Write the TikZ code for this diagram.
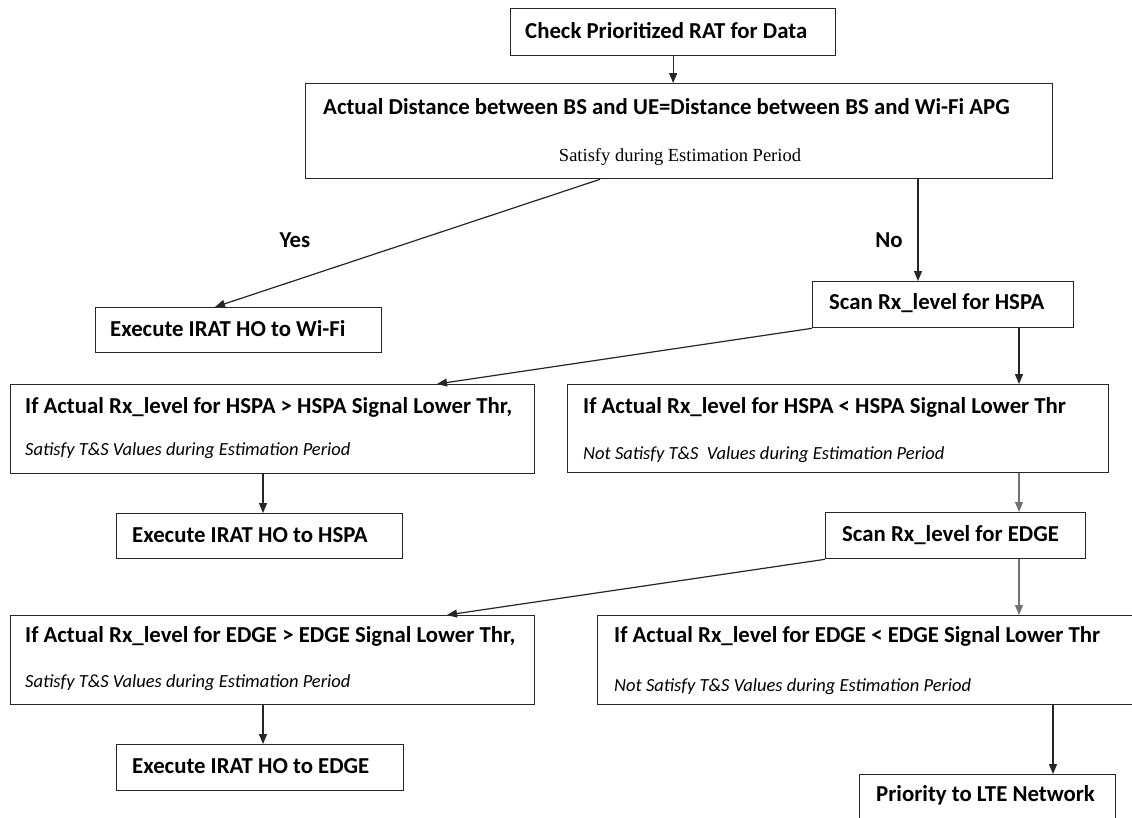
\documentclass[tikz,border=0pt]{standalone}
\usepackage{fontspec}
\setmainfont{Carlito}
\newfontfamily\subserif{Liberation Serif}
\usetikzlibrary{arrows.meta,calc}
\tikzset{
 box/.style={draw=black!85, line width=1.3pt, inner sep=0pt, anchor=north west},
 ttl/.style={anchor=west, inner sep=0pt, font=\fontsize{22.8}{24}\selectfont\bfseries},
 sub/.style={anchor=west, inner sep=0pt, font=\fontsize{18.5}{20}\selectfont\itshape},
 lbl/.style={inner sep=0pt, font=\fontsize{22.8}{24}\selectfont\bfseries},
 arr/.style={line width=1.2pt, draw=black!85, -{Triangle[length=10pt,width=8pt]}},
}
\begin{document}
\begin{tikzpicture}[x=1pt,y=-1pt]
\useasboundingbox[fill=white] (0,0) rectangle (1132,817);
% boxes
\node[box,minimum width=325pt,minimum height=47pt] (b1) at (510,8) {};
\node[box,minimum width=747pt,minimum height=95pt] (b2) at (305,83) {};
\node[box,minimum width=286pt,minimum height=45pt] (b3) at (95,307) {};
\node[box,minimum width=261pt,minimum height=46pt] (b4) at (812,281) {};
\node[box,minimum width=524pt,minimum height=89pt] (b5) at (10,384) {};
\node[box,minimum width=541pt,minimum height=88pt] (b6) at (567,384) {};
\node[box,minimum width=286pt,minimum height=45pt] (b7) at (116,513) {};
\node[box,minimum width=260pt,minimum height=46pt] (b8) at (825,512) {};
\node[box,minimum width=524pt,minimum height=89pt] (b9) at (10,615) {};
\node[box,minimum width=545pt,minimum height=89pt] (b10) at (597,615) {};
\node[box,minimum width=287pt,minimum height=46pt] (b11) at (116,744) {};
\node[box,minimum width=256pt,minimum height=50pt] (b12) at (859,774) {};
% texts
\node[ttl] (t1) at (525,31) {Check Prioritized RAT for Data};
\node[ttl] (t2) at (323,107) {Actual Distance between BS and UE=Distance between BS and Wi-Fi APG};
\node[inner sep=0pt,font=\fontsize{18.5}{20}\selectfont\subserif] (s2) at (680,157) {Satisfy during Estimation Period};
\node[ttl] (t3) at (110,329) {Execute IRAT HO to Wi-Fi};
\node[ttl] (t4) at (829,303) {Scan Rx\_level for HSPA};
\node[ttl] (t5) at (25,407) {If Actual Rx\_level for HSPA > HSPA Signal Lower Thr,};
\node[sub] (s5) at (25,451) {Satisfy T\&S Values during Estimation Period};
\node[ttl] (t6) at (583,407) {If Actual Rx\_level for HSPA < HSPA Signal Lower Thr};
\node[sub] (s6) at (583,455) {Not Satisfy T\&S\ \ Values during Estimation Period};
\node[ttl] (t7) at (132,535) {Execute IRAT HO to HSPA};
\node[ttl] (t8) at (842,535) {Scan Rx\_level for EDGE};
\node[ttl] (t9) at (25,636) {If Actual Rx\_level for EDGE > EDGE Signal Lower Thr,};
\node[sub] (s9) at (25,683) {Satisfy T\&S Values during Estimation Period};
\node[ttl] (t10) at (614,636) {If Actual Rx\_level for EDGE < EDGE Signal Lower Thr};
\node[sub] (s10) at (614,687) {Not Satisfy T\&S Values during Estimation Period};
\node[ttl] (t11) at (132,766) {Execute IRAT HO to EDGE};
\node[ttl] (t12) at (876,795) {Priority to LTE Network};
\node[lbl] (yes) at (295,240) {Yes};
\node[lbl] (no) at (889,240) {No};
% connector endpoints
\coordinate (c1) at (b1.south);
\coordinate (cy) at ($(b2.south west)+(295,0)$);
\coordinate (cy2) at ($(b3.north west)+(120,0)$);
\coordinate (cn) at ($(b2.south west)+(613,0)$);
\coordinate (c45) at ($(b5.north west)+(427,0)$);
\coordinate (c46) at ($(b4.south west)+(207,0)$);
\coordinate (c57) at ($(b5.south west)+(253,0)$);
\coordinate (c68) at ($(b6.south west)+(452,0)$);
\coordinate (c89) at ($(b9.north west)+(437,0)$);
\coordinate (c810) at ($(b8.south west)+(194,0)$);
\coordinate (c911) at ($(b9.south west)+(253,0)$);
\coordinate (c1012) at ($(b10.south west)+(456,0)$);
% connectors
\draw[arr] (c1) -- (c1 |- b2.north);
\draw[arr] (cy) -- (cy2);
\draw[arr] (cn) -- (cn |- b4.north);
\draw[arr] (b4.south west) -- (c45);
\draw[arr] (c46) -- (c46 |- b6.north);
\draw[arr] (c57) -- (c57 |- b7.north);
\draw[arr,draw=black!55] (c68) -- (c68 |- b8.north);
\draw[arr] (b8.south west) -- (c89);
\draw[arr,draw=black!55] (c810) -- (c810 |- b10.north);
\draw[arr] (c911) -- (c911 |- b11.north);
\draw[arr] (c1012) -- (c1012 |- b12.north);
\end{tikzpicture}
\end{document}
